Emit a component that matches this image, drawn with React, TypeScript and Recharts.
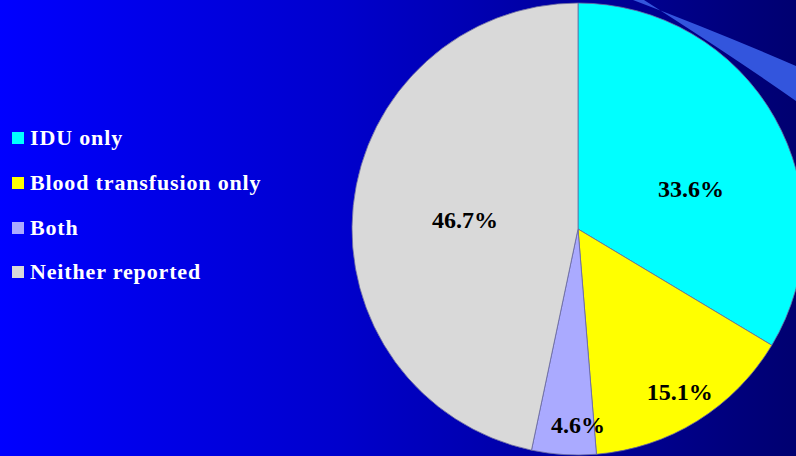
import { PieChart, Pie, Cell } from "recharts";

const categories = ["IDU only", "Blood transfusion only", "Both", "Neither reported"];
const shares = [33.6, 15.1, 4.6, 46.7];
const sliceColors = ["#00ffff", "#ffff00", "#aaaaff", "#d9d9d9"];

// label placement: fraction of the radius, and a small clockwise turn (deg)
const labelReach = [0.531, 0.851, 0.867, 0.502];
const labelTurn = [9.8, -0.1, -3.6, -1.2];

const data = categories.map((name, i) => ({ name, value: shares[i] }));

const RADIAN = Math.PI / 180;
const SERIF = "'Liberation Serif', 'Times New Roman', serif";

function renderLabel(props: any) {
  const { cx, cy, midAngle, outerRadius, index, value } = props;
  const r = outerRadius * labelReach[index];
  const a = (midAngle - labelTurn[index]) * RADIAN;
  const x = cx + r * Math.cos(-a);
  const y = cy + r * Math.sin(-a);
  return (
    <text
      x={x}
      y={y}
      textAnchor="middle"
      dominantBaseline="central"
      fill="#000"
      fontFamily={SERIF}
      fontWeight="bold"
      fontSize={24}
    >
      {value.toFixed(1)}%
    </text>
  );
}

function LegendBox() {
  return (
    <div style={{ position: "absolute", left: 12, top: 116 }}>
      {data.map((d, i) => (
        <div
          key={d.name}
          style={{ display: "flex", alignItems: "center", height: 44.7 }}
        >
          <div
            style={{
              width: 12,
              height: 12,
              background: sliceColors[i],
              marginRight: 6,
            }}
          />
          <span
            style={{
              color: "#fff",
              fontFamily: SERIF,
              fontWeight: "bold",
              fontSize: 22,
              letterSpacing: 0.85,
            }}
          >
            {d.name}
          </span>
        </div>
      ))}
    </div>
  );
}

export default function App() {
  return (
    <div
      style={{
        position: "absolute",
        left: 0,
        top: 0,
        width: 796,
        height: 456,
        overflow: "hidden",
        background: "linear-gradient(to right, #0000ff 0%, #0000cc 43%, #000070 100%)",
      }}
    >
      {/* decorative swoosh in the top right corner */}
      <svg
        width={796}
        height={456}
        style={{ position: "absolute", left: 0, top: 0 }}
      >
        <path
          d="M633,0 Q720,33 796,66 L796,101 Q735,58 644,0 Z"
          fill="#3355dd"
        />
      </svg>
      <div style={{ position: "absolute", left: 0, top: 0 }}>
        <PieChart
          width={796}
          height={456}
          margin={{ top: 0, right: 0, bottom: 0, left: 0 }}
          style={{ overflow: "visible" }}
        >
          <Pie
            data={data}
            dataKey="value"
            nameKey="name"
            cx={578}
            cy={229}
            outerRadius={226}
            startAngle={90}
            endAngle={-270}
            stroke="#6a6aa0"
            strokeWidth={0.8}
            label={renderLabel}
            labelLine={false}
            isAnimationActive={false}
          >
            {data.map((d, i) => (
              <Cell key={d.name} fill={sliceColors[i]} />
            ))}
          </Pie>
        </PieChart>
      </div>
      <LegendBox />
    </div>
  );
}
